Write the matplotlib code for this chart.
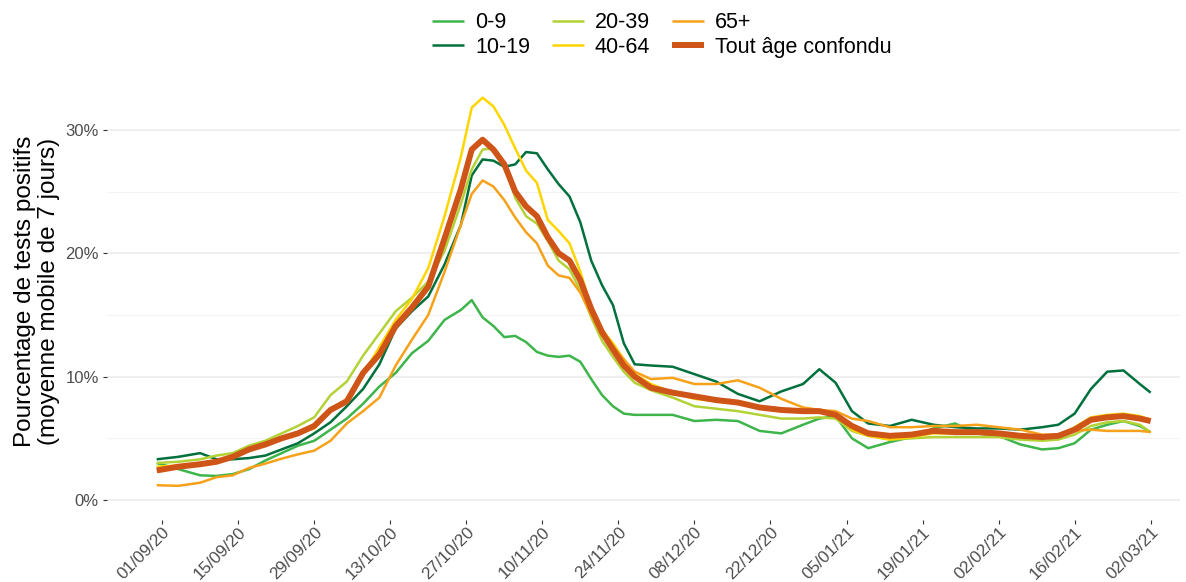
import matplotlib
matplotlib.use("Agg")
import matplotlib.pyplot as plt
import matplotlib.dates as mdates
from matplotlib.ticker import FuncFormatter, MultipleLocator
import pandas as pd

plt.rcParams['font.family'] = ['Liberation Sans', 'DejaVu Sans']

dates = ["2020-08-31", "2020-09-04", "2020-09-08", "2020-09-11", "2020-09-14", "2020-09-17",
         "2020-09-20", "2020-09-23", "2020-09-26", "2020-09-29", "2020-10-02", "2020-10-05",
         "2020-10-08", "2020-10-11", "2020-10-14", "2020-10-17", "2020-10-20", "2020-10-23",
         "2020-10-26", "2020-10-28", "2020-10-30", "2020-11-01", "2020-11-03", "2020-11-05",
         "2020-11-07", "2020-11-09", "2020-11-11", "2020-11-13", "2020-11-15", "2020-11-17",
         "2020-11-19", "2020-11-21", "2020-11-23", "2020-11-25", "2020-11-27", "2020-11-30",
         "2020-12-04", "2020-12-08", "2020-12-12", "2020-12-16", "2020-12-20", "2020-12-24",
         "2020-12-28", "2020-12-31", "2021-01-03", "2021-01-06", "2021-01-09", "2021-01-13",
         "2021-01-17", "2021-01-21", "2021-01-25", "2021-01-29", "2021-02-02", "2021-02-06",
         "2021-02-10", "2021-02-13", "2021-02-16", "2021-02-19", "2021-02-22", "2021-02-25",
         "2021-02-28", "2021-03-02"]

age_0_9 = [3.0, 2.5, 2.0, 1.95, 2.1, 2.5, 3.2, 3.8, 4.4, 4.8, 5.7, 6.6, 7.8, 9.2, 10.3, 11.9,
           12.9, 14.6, 15.4, 16.2, 14.8, 14.1, 13.2, 13.3, 12.8, 12.0, 11.7, 11.6, 11.7, 11.2,
           9.8, 8.5, 7.6, 7.0, 6.9, 6.9, 6.9, 6.4, 6.5, 6.4, 5.6, 5.4, 6.1, 6.6, 6.8, 5.0,
           4.2, 4.7, 5.1, 5.8, 6.2, 5.4, 5.2, 4.5, 4.1, 4.2, 4.6, 5.7, 6.1, 6.4, 6.0, 5.5]

age_10_19 = [3.3, 3.5, 3.8, 3.3, 3.3, 3.4, 3.6, 4.1, 4.6, 5.4, 6.3, 7.6, 9.0, 11.0, 13.9, 15.3,
             16.5, 19.1, 22.3, 26.3, 27.6, 27.5, 27.0, 27.2, 28.2, 28.1, 26.8, 25.6, 24.6, 22.5,
             19.4, 17.4, 15.8, 12.7, 11.0, 10.9, 10.8, 10.2, 9.6, 8.6, 8.0, 8.8, 9.4, 10.6, 9.5, 7.2,
             6.2, 6.0, 6.5, 6.1, 5.9, 5.8, 5.8, 5.7, 5.9, 6.1, 7.0, 9.0, 10.4, 10.5, 9.4, 8.7]

age_20_39 = [3.0, 3.1, 3.3, 3.6, 3.8, 4.4, 4.8, 5.4, 6.0, 6.7, 8.5, 9.6, 11.7, 13.5, 15.3, 16.4,
             17.7, 20.2, 24.0, 26.8, 28.4, 28.5, 27.3, 24.5, 23.0, 22.4, 21.0, 19.4, 18.7, 17.0,
             14.8, 12.9, 11.6, 10.4, 9.5, 8.9, 8.3, 7.6, 7.4, 7.2, 6.9, 6.6, 6.6, 6.7, 6.6, 5.6,
             5.2, 4.9, 5.0, 5.1, 5.1, 5.1, 5.1, 4.9, 4.8, 4.9, 5.3, 6.0, 6.3, 6.4, 6.1, 5.5]

age_40_64 = [2.7, 2.8, 3.0, 3.2, 3.6, 4.2, 4.6, 5.1, 5.4, 5.8, 7.3, 8.2, 10.2, 12.4, 14.6, 16.3,
             18.8, 23.0, 27.8, 31.8, 32.6, 31.9, 30.4, 28.5, 26.7, 25.7, 22.7, 21.8, 20.8, 18.5,
             15.6, 13.8, 12.7, 11.4, 10.2, 9.4, 8.7, 8.2, 8.0, 7.8, 7.5, 7.2, 7.2, 7.2, 6.9, 5.7,
             5.2, 4.9, 5.1, 5.4, 5.4, 5.4, 5.3, 5.1, 5.0, 5.2, 5.9, 6.7, 6.9, 7.0, 6.8, 6.5]

age_65_plus = [1.2, 1.15, 1.4, 1.85, 2.0, 2.6, 2.95, 3.35, 3.7, 4.0, 4.8, 6.2, 7.2, 8.3, 10.9, 13.0,
               15.0, 18.5, 22.3, 24.8, 25.9, 25.4, 24.3, 22.9, 21.7, 20.8, 19.0, 18.2, 18.0, 16.8,
               15.0, 13.3, 12.5, 11.4, 10.4, 9.8, 9.9, 9.4, 9.4, 9.7, 9.1, 8.2, 7.5, 7.3, 7.2, 6.6,
               6.4, 5.9, 5.9, 6.0, 6.0, 6.1, 5.9, 5.7, 5.3, 5.3, 5.6, 5.7, 5.6, 5.6, 5.6, 5.5]

all_ages = [2.4, 2.7, 2.9, 3.1, 3.5, 4.1, 4.5, 5.0, 5.4, 6.0, 7.3, 8.0, 10.3, 11.8, 14.1, 15.6,
            17.3, 21.2, 25.2, 28.4, 29.2, 28.4, 27.2, 25.0, 23.8, 23.0, 21.3, 20.0, 19.4, 17.8,
            15.5, 13.6, 12.2, 10.9, 10.0, 9.1, 8.7, 8.4, 8.1, 7.9, 7.5, 7.3, 7.2, 7.2, 6.9, 6.0,
            5.4, 5.2, 5.3, 5.6, 5.5, 5.5, 5.4, 5.2, 5.1, 5.2, 5.7, 6.5, 6.7, 6.8, 6.6, 6.4]

labels = ["0-9", "10-19", "20-39", "40-64", "65+", "Tout âge confondu"]
colors = ["#3DB54A", "#00703C", "#B2D236", "#FFD500", "#F7A11A", "#CF5418"]
tick_start = "2020-09-01"
tick_end = "2021-03-02"
y_title = "Pourcentage de tests positifs\n(moyenne mobile de 7 jours)"

x = pd.to_datetime(dates)
series = [age_0_9, age_10_19, age_20_39, age_40_64, age_65_plus, all_ages]

W, H = 1186, 582
fig = plt.figure(figsize=(W / 100, H / 100), dpi=100)
ax = fig.add_axes([107 / W, 1 - 520 / H, (1180 - 107) / W, (520 - 78) / H])

handles = []
for vals, lab, col in zip(series, labels, colors):
    thick = lab.startswith("Tout")
    h, = ax.plot(x, vals, color=col, lw=4.3 if thick else 1.8, label=lab,
                 solid_joinstyle='round', solid_capstyle='butt', zorder=3 if thick else 2)
    handles.append(h)

t0 = pd.Timestamp(tick_start)
ax.set_xlim(t0 - pd.Timedelta(days=10.15), t0 + pd.Timedelta(days=187.4))
ax.set_ylim(-1.62, 34.2)

ticks = pd.date_range(tick_start, tick_end, freq="14D")
ax.set_xticks(ticks)
ax.xaxis.set_major_formatter(mdates.DateFormatter("%d/%m/%y"))
ax.yaxis.set_major_locator(MultipleLocator(10))
ax.yaxis.set_minor_locator(MultipleLocator(5))
ax.yaxis.set_major_formatter(FuncFormatter(lambda v, p: f"{int(v)}%"))

ax.grid(axis='y', which='major', color='#EBEBEB', lw=1.1, zorder=0)
ax.grid(axis='y', which='minor', color='#F3F3F3', lw=0.8, zorder=0)
ax.set_axisbelow(True)
for s in ax.spines.values():
    s.set_visible(False)

ax.tick_params(axis='y', which='major', length=3, width=0.8, color='#333333',
               labelsize=12, labelcolor='#4D4D4D', pad=3)
ax.tick_params(axis='y', which='minor', length=0)
ax.tick_params(axis='x', length=3, width=0.8, color='#333333', labelsize=12.3,
               labelcolor='#4D4D4D', pad=0)
for lbl in ax.get_xticklabels():
    lbl.set_rotation(45)
    lbl.set_ha('right')
    lbl.set_va('top')
    lbl.set_rotation_mode('anchor')

fig.text(37 / W, 1 - 291 / H, y_title, rotation=90, ha='center', va='center',
         fontsize=17.5, color='black', linespacing=1.1, multialignment='center')

fig.legend(handles, labels, loc='upper center', bbox_to_anchor=(0.558, 1.012), ncol=3,
           frameon=False, fontsize=15.5, handlelength=1.5, handletextpad=0.5,
           columnspacing=1.0, labelspacing=0.15)

fig.savefig("out.png", dpi=100)
